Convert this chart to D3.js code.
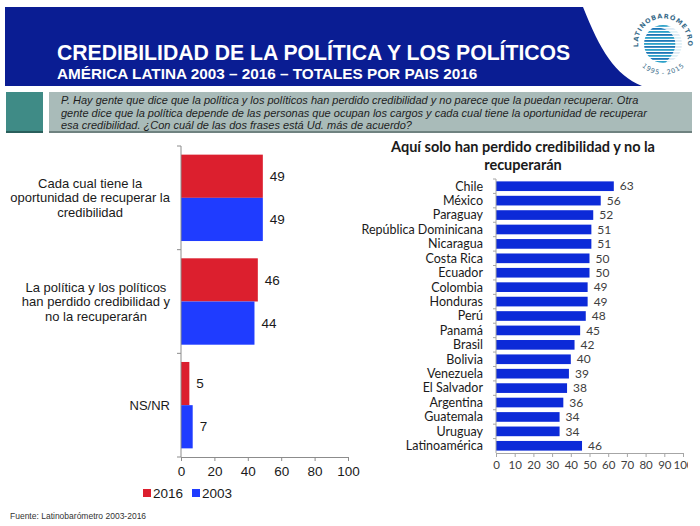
<!DOCTYPE html>
<html><head><meta charset="utf-8">
<script src="https://cdn.jsdelivr.net/npm/d3@7"></script>
<style>
html,body{margin:0;padding:0;background:#fff;}
svg{display:block;}
</style></head>
<body>
<svg id="chart" width="700" height="526"></svg>
<script>
// ---------- DATA ----------
const titleText = "CREDIBILIDAD DE LA POLÍTICA Y LOS POLÍTICOS";
const subtitleText = "AMÉRICA LATINA 2003 – 2016 – TOTALES POR PAIS 2016";
const questionLines = [
  "P. Hay gente que dice que la política y los políticos han perdido credibilidad y no parece que la puedan recuperar. Otra",
  "gente dice que la política depende de las personas que ocupan los cargos y cada cual tiene la oportunidad de recuperar",
  "esa credibilidad. ¿Con cuál de las dos frases está Ud. más de acuerdo?"
];
const leftCategories = ["Cada cual", "La política", "NS/NR"];
const leftCategoryLines = [
  ["Cada cual tiene la", "oportunidad de recuperar la", "credibilidad"],
  ["La política y los políticos", "han perdido credibilidad y", "no la recuperarán"],
  ["NS/NR"]
];
const seriesNames = ["2016", "2003"];
const values2016 = [49, 46, 5];
const values2003 = [49, 44, 7];
const leftTicks = [0, 20, 40, 60, 80, 100];

const rightTitleLines = ["Aquí solo han perdido credibilidad y no la", "recuperarán"];
const countries = ["Chile","México","Paraguay","República Dominicana","Nicaragua","Costa Rica","Ecuador","Colombia","Honduras","Perú","Panamá","Brasil","Bolivia","Venezuela","El Salvador","Argentina","Guatemala","Uruguay","Latinoamérica"];
const countryValues = [63,56,52,51,51,50,50,49,49,48,45,42,40,39,38,36,34,34,46];
const rightTicks = [0,10,20,30,40,50,60,70,80,90,100];
const sourceText = "Fuente: Latinobarómetro 2003-2016";

// ---------- STYLE ----------
const RED = "#dc1f2e", BLUE = "#1f3cff", RBLUE = "#0c2ad8";
const svg = d3.select("#chart");

// ---------- HEADER ----------
svg.append("path")
  .attr("d", "M5,7 L583,7 C600,50 615,75 642,86 L5,86 Z")
  .attr("fill", "#0a1d93");
svg.append("text").attr("x", 57).attr("y", 60)
  .attr("font-family", "Liberation Sans, Arial, sans-serif").attr("font-weight", "bold")
  .attr("font-size", 21.2).attr("fill", "#fff").text(titleText);
svg.append("text").attr("x", 57).attr("y", 79)
  .attr("font-family", "Liberation Sans, Arial, sans-serif").attr("font-weight", "bold")
  .attr("font-size", 15.3).attr("fill", "#fff").text(subtitleText);

// logo
const logo = svg.append("g").attr("transform", "translate(663,44)");
logo.append("defs").append("clipPath").attr("id", "logoClip")
  .append("circle").attr("r", 19);
const stripes = logo.append("g").attr("clip-path", "url(#logoClip)");
d3.range(-19, 19, 3).forEach((y, i) => {
  stripes.append("rect").attr("x", -19).attr("y", y).attr("width", 38).attr("height", 1.8)
    .attr("fill", i % 2 ? "#1b76b6" : "#2aa0c8");
});
logo.append("path").attr("d", "M-2,-16 C8,-14 14,-6 12,4 C10,12 4,16 2,20 L19,20 L19,-20 Z")
  .attr("fill", "#fff").attr("opacity", 0.85);
logo.append("path").attr("id", "logoArc").attr("fill", "none")
  .attr("d", "M-21,13 A25,25 0 1,1 21,13");
logo.append("text").attr("font-family", "DejaVu Sans, sans-serif").attr("font-size", 6.5)
  .attr("font-weight", "bold").attr("fill", "#3a6c8a").attr("letter-spacing", 0.8)
  .append("textPath").attr("href", "#logoArc").attr("startOffset", "50%").attr("text-anchor", "middle")
  .text("LATINOBARÓMETRO");
logo.append("path").attr("id", "logoArc2").attr("fill", "none")
  .attr("d", "M-20,17 A27,27 0 0,0 20,17");
logo.append("text").attr("font-family", "DejaVu Sans, sans-serif").attr("font-size", 6.5)
  .attr("fill", "#3a6c8a")
  .append("textPath").attr("href", "#logoArc2").attr("startOffset", "50%").attr("text-anchor", "middle")
  .attr("dominant-baseline", "hanging").text("1995 - 2015");

// ---------- QUESTION BOX ----------
svg.append("rect").attr("x", 6).attr("y", 92).attr("width", 37).attr("height", 41).attr("fill", "#3f8b86");
svg.append("rect").attr("x", 6).attr("y", 131).attr("width", 37).attr("height", 2).attr("fill", "#2a5f5c");
svg.append("rect").attr("x", 49).attr("y", 92).attr("width", 643).attr("height", 41).attr("fill", "#a9bbb9");
svg.append("rect").attr("x", 49).attr("y", 131).attr("width", 643).attr("height", 2).attr("fill", "#6f8280");
questionLines.forEach((l, i) => {
  svg.append("text").attr("x", 61).attr("y", 104 + i * 12.5)
    .attr("font-family", "Liberation Sans, Arial, sans-serif").attr("font-style", "italic")
    .attr("font-size", 11).attr("fill", "#1e1e1e").text(l);
});

// ---------- LEFT CHART ----------
const lx = d3.scaleLinear().domain([0, 100]).range([181, 348]);
const ly = d3.scaleBand().domain(leftCategories).range([146, 457]).paddingInner(0).paddingOuter(0);
const ls = d3.scaleBand().domain(seriesNames).range([0, ly.bandwidth()]).paddingOuter(0.2).paddingInner(0);
const leftData = leftCategories.map((c, i) => ({c, vals: [values2016[i], values2003[i]]}));
const lg = svg.append("g");
leftData.forEach(d => {
  seriesNames.forEach((s, j) => {
    const v = d.vals[j];
    const y0 = ly(d.c) + ls(s);
    lg.append("rect").attr("x", lx(0)).attr("y", y0).attr("width", lx(v) - lx(0))
      .attr("height", ls.bandwidth()).attr("fill", j === 0 ? RED : BLUE);
    lg.append("text").attr("x", lx(v) + 7).attr("y", y0 + ls.bandwidth() / 2).attr("dy", "0.35em")
      .attr("font-family", "Liberation Sans, Arial, sans-serif").attr("font-size", 13.5)
      .attr("fill", "#1a1a1a").text(v);
  });
});
// left axis
const leftAxis = lg.append("g");
leftAxis.append("line").attr("x1", 181).attr("x2", 181).attr("y1", 146).attr("y2", 457).attr("stroke", "#8c8c8c");
leftCategories.concat(["__end"]).forEach((c, i) => {
  const y = i < leftCategories.length ? ly(c) : ly.range()[1];
  leftAxis.append("line").attr("x1", 177).attr("x2", 181).attr("y1", y).attr("y2", y).attr("stroke", "#8c8c8c");
});
// category labels: block centred, block right edge at 170
leftData.forEach((d, i) => {
  const lines = leftCategoryLines[i];
  const g = lg.append("g");
  const cy = ly(d.c) + ly.bandwidth() / 2;
  const lh = 14.5;
  const texts = lines.map((l, k) => g.append("text")
    .attr("y", cy + (k - (lines.length - 1) / 2) * lh).attr("dy", "0.35em")
    .attr("text-anchor", "middle")
    .attr("font-family", "Liberation Sans, Arial, sans-serif").attr("font-size", 13)
    .attr("fill", "#1a1a1a").text(l));
  const maxW = d3.max(texts, t => t.node().getComputedTextLength());
  texts.forEach(t => t.attr("x", 170 - maxW / 2));
});
// bottom axis
const lb = svg.append("g").attr("transform", "translate(0,457)")
  .call(d3.axisBottom(lx).tickValues(leftTicks).tickSize(4).tickSizeOuter(0).tickPadding(5));
lb.select(".domain").attr("stroke", "#8c8c8c");
lb.selectAll(".tick line").attr("stroke", "#8c8c8c");
lb.selectAll(".tick text").attr("font-family", "Liberation Sans, Arial, sans-serif")
  .attr("font-size", 13.5).attr("fill", "#1a1a1a");
// legend
const legend = svg.append("g").attr("transform", "translate(143,493)");
[[0, "2016", RED], [49, "2003", BLUE]].forEach(([dx, t, c]) => {
  legend.append("rect").attr("x", dx).attr("y", -4).attr("width", 8).attr("height", 8).attr("fill", c);
  legend.append("text").attr("x", dx + 10).attr("y", 0).attr("dy", "0.35em")
    .attr("font-family", "Liberation Sans, Arial, sans-serif").attr("font-size", 13.5)
    .attr("fill", "#1a1a1a").text(t);
});
// source
svg.append("text").attr("x", 10).attr("y", 519)
  .attr("font-family", "Liberation Sans, Arial, sans-serif").attr("font-size", 8.5)
  .attr("fill", "#333").text(sourceText);

// ---------- RIGHT CHART ----------
svg.append("defs").append("clipPath").attr("id", "rclip")
  .append("rect").attr("x", 330).attr("y", 135).attr("width", 358).attr("height", 360);
const rg = svg.append("g").attr("clip-path", "url(#rclip)");
const RFONT = "Lato, 'Open Sans', sans-serif";
rightTitleLines.forEach((l, i) => {
  rg.append("text").attr("x", 523).attr("y", 152 + i * 17.5).attr("text-anchor", "middle")
    .attr("font-family", RFONT).attr("font-weight", "bold").attr("font-size", 14.5)
    .attr("fill", "#1a1a1a").text(l);
});
const rx = d3.scaleLinear().domain([0, 100]).range([496, 683]);
const ry = d3.scaleBand().domain(countries).range([179, 453]).paddingInner(0.33).paddingOuter(0.165);
countries.forEach((c, i) => {
  const v = countryValues[i];
  rg.append("rect").attr("x", rx(0)).attr("y", ry(c)).attr("width", rx(v) - rx(0))
    .attr("height", ry.bandwidth()).attr("fill", RBLUE);
  rg.append("text").attr("x", rx(v) + 6).attr("y", ry(c) + ry.bandwidth() / 2).attr("dy", "0.35em")
    .attr("font-family", RFONT).attr("font-size", 12).attr("fill", "#404040").text(v);
  rg.append("text").attr("x", 483).attr("y", ry(c) + ry.bandwidth() / 2).attr("dy", "0.35em")
    .attr("text-anchor", "end")
    .attr("font-family", RFONT).attr("font-size", 12.5).attr("fill", "#1a1a1a").text(c);
});
// left axis line of right chart
rg.append("line").attr("x1", 496).attr("x2", 496).attr("y1", 179).attr("y2", 453).attr("stroke", "#a6a6a6");
countries.forEach((c, i) => {
  const y = ry.range()[0] + i * ry.step();
  rg.append("line").attr("x1", 493).attr("x2", 496).attr("y1", y).attr("y2", y).attr("stroke", "#a6a6a6");
});
const rb = rg.append("g").attr("transform", "translate(0,453)")
  .call(d3.axisBottom(rx).tickValues(rightTicks).tickSize(4).tickSizeOuter(0).tickPadding(4));
rb.select(".domain").attr("stroke", "#a6a6a6");
rb.selectAll(".tick line").attr("stroke", "#a6a6a6");
rb.selectAll(".tick text").attr("font-family", RFONT).attr("font-size", 11.5).attr("fill", "#404040");
</script>
</body></html>
